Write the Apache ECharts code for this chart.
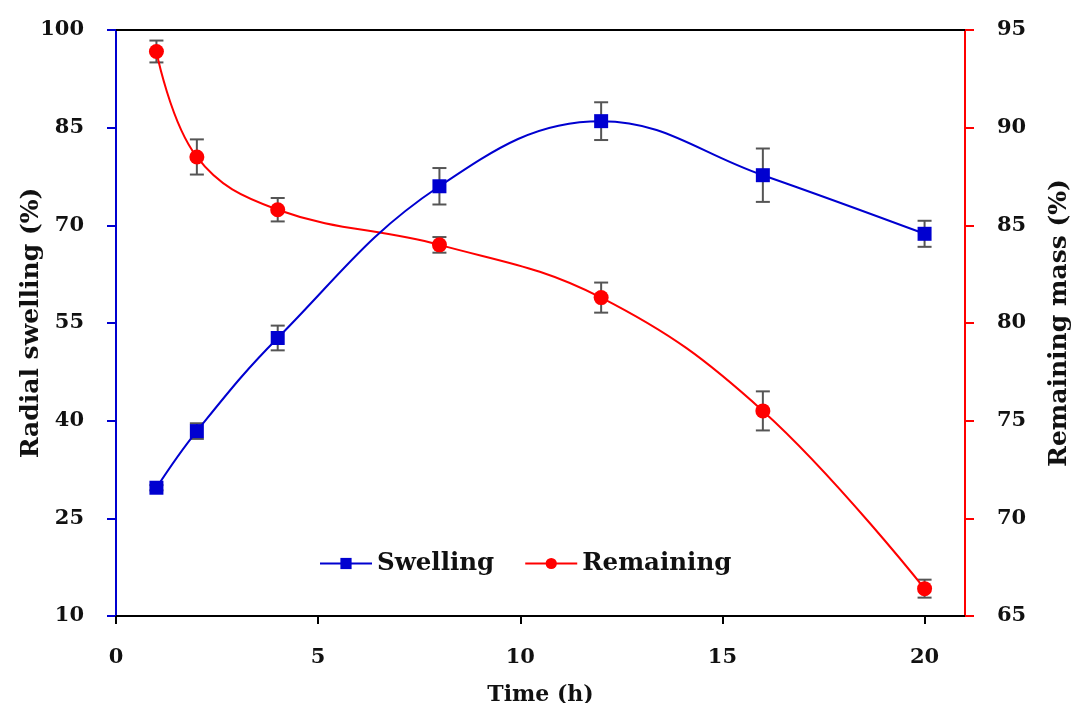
<!DOCTYPE html>
<html><head><meta charset="utf-8">
<script src="https://cdn.jsdelivr.net/npm/echarts@6/dist/echarts.min.js"></script>
<style>html,body{margin:0;background:#fff}#c{width:1074px;height:703px}</style>
</head><body><div id="c"></div>
<script>
const time = [1, 2, 4, 8, 12, 16, 20];
const swelling = [29.7, 38.4, 52.7, 76.0, 86.0, 77.7, 68.7];
const swellingErr = [0.4, 1.2, 1.9, 2.8, 2.9, 4.1, 2.0];
const remaining = [93.9, 88.5, 85.8, 84.0, 81.3, 75.5, 66.4];
const remainingErr = [0.56, 0.9, 0.6, 0.4, 0.77, 1.0, 0.46];
const xTicks = [0, 5, 10, 15, 20];

const FONT = 'DejaVu Serif';
const BLUE = '#0000d0';
const RED = '#ff0000';

// main grid: x from 0 to 21 over 116..965 px; tick grid spans 0..20 of the same scale
const GL = 116, GR = 109, GT = 30, GB = 87, XMAX = 21, XTMAX = 20;
const plotW = 1074 - GL - GR;
const tickGridRight = 1074 - (GL + plotW * XTMAX / XMAX);

function errRender(params, api) {
  const x = api.value(0), y = api.value(1), e = api.value(2);
  const top = api.coord([x, y + e]), bot = api.coord([x, y - e]);
  const w = 7;
  const style = { stroke: '#555', lineWidth: 2 };
  return { type: 'group', children: [
    { type: 'line', shape: { x1: top[0], y1: top[1], x2: bot[0], y2: bot[1] }, style },
    { type: 'line', shape: { x1: top[0] - w, y1: top[1], x2: top[0] + w, y2: top[1] }, style },
    { type: 'line', shape: { x1: bot[0] - w, y1: bot[1], x2: bot[0] + w, y2: bot[1] }, style }
  ]};
}

const chart = echarts.init(document.getElementById('c'), null, { renderer: 'canvas' });
chart.setOption({
  animation: false,
  backgroundColor: '#fff',
  grid: [
    { left: GL, right: GR, top: GT, bottom: GB, containLabel: false, outerBoundsMode: 'none' },
    { left: GL, right: tickGridRight, top: GT, bottom: GB, containLabel: false, outerBoundsMode: 'none' }
  ],
  legend: {
    data: ['Swelling', 'Remaining'],
    left: 314, top: 546,
    itemWidth: 52, itemHeight: 14, itemGap: 30,
    textStyle: { fontFamily: FONT, fontWeight: 'bold', fontSize: 24.5, color: '#111' }
  },
  xAxis: [{
    type: 'value', min: 0, max: XMAX, gridIndex: 0,
    name: 'Time (h)', nameLocation: 'middle', nameGap: 68, nameMoveOverlap: false,
    nameTextStyle: { fontFamily: FONT, fontWeight: 'bold', fontSize: 22, color: '#111' },
    axisLine: { show: true, onZero: false, lineStyle: { color: '#000', width: 2 } },
    axisTick: { show: false },
    axisLabel: { show: true, margin: 31, customValues: xTicks, fontFamily: FONT, fontWeight: 'bold', fontSize: 21, color: '#111' },
    splitLine: { show: false }
  }, {
    type: 'value', position: 'top', min: 0, max: XMAX, gridIndex: 0,
    axisLine: { show: true, lineStyle: { color: '#000', width: 2 } },
    axisTick: { show: false }, axisLabel: { show: false }, splitLine: { show: false }
  }, {
    type: 'value', show: true, position: 'bottom', min: 0, max: XTMAX, interval: 5, gridIndex: 1,
    axisLine: { show: true, onZero: false, lineStyle: { color: 'rgba(0,0,0,0)', width: 1 } },
    axisTick: { show: true, inside: false, length: 8, lineStyle: { color: '#000', width: 2 } },
    axisLabel: { show: false }, splitLine: { show: false }
  }],
  yAxis: [{
    type: 'value', min: 10, max: 100, interval: 15, position: 'left', gridIndex: 0,
    name: 'Radial swelling (%)', nameLocation: 'middle', nameGap: 72, nameRotate: 90, nameMoveOverlap: false,
    nameTextStyle: { fontFamily: FONT, fontWeight: 'bold', fontSize: 25, color: '#111' },
    axisLine: { show: true, onZero: false, lineStyle: { color: BLUE, width: 2 } },
    axisTick: { show: true, inside: false, length: 9, lineStyle: { color: BLUE, width: 2 } },
    axisLabel: { margin: 32, fontFamily: FONT, fontWeight: 'bold', fontSize: 21, color: '#111' },
    splitLine: { show: false }
  }, {
    type: 'value', min: 65, max: 95, interval: 5, position: 'right', gridIndex: 0,
    name: 'Remaining mass (%)', nameLocation: 'middle', nameGap: 82, nameRotate: 90, nameMoveOverlap: false,
    nameTextStyle: { fontFamily: FONT, fontWeight: 'bold', fontSize: 25, color: '#111' },
    axisLine: { show: true, onZero: false, lineStyle: { color: RED, width: 2 } },
    axisTick: { show: true, inside: false, length: 9, lineStyle: { color: RED, width: 2 } },
    axisLabel: { margin: 32, fontFamily: FONT, fontWeight: 'bold', fontSize: 21, color: '#111' },
    splitLine: { show: false }
  }, {
    type: 'value', gridIndex: 1, min: 0, max: 1, show: false
  }],
  series: [
    {
      type: 'custom', name: 'errS', xAxisIndex: 0, yAxisIndex: 0, z: 1,
      renderItem: errRender, encode: { x: 0, y: 1 },
      data: time.map((t, i) => [t, swelling[i], swellingErr[i]])
    },
    {
      type: 'custom', name: 'errR', xAxisIndex: 0, yAxisIndex: 1, z: 1,
      renderItem: errRender, encode: { x: 0, y: 1 },
      data: time.map((t, i) => [t, remaining[i], remainingErr[i]])
    },
    {
      type: 'line', name: 'Remaining', xAxisIndex: 0, yAxisIndex: 1, z: 3,
      data: time.map((t, i) => [t, remaining[i]]),
      smooth: 0.4,
      symbol: 'circle', symbolSize: 15,
      lineStyle: { color: RED, width: 2 },
      itemStyle: { color: RED }
    },
    {
      type: 'line', name: 'Swelling', xAxisIndex: 0, yAxisIndex: 0, z: 3,
      data: time.map((t, i) => [t, swelling[i]]),
      smooth: 0.4,
      symbol: 'rect', symbolSize: 14,
      lineStyle: { color: BLUE, width: 2 },
      itemStyle: { color: BLUE }
    }
  ]
});
</script></body></html>
